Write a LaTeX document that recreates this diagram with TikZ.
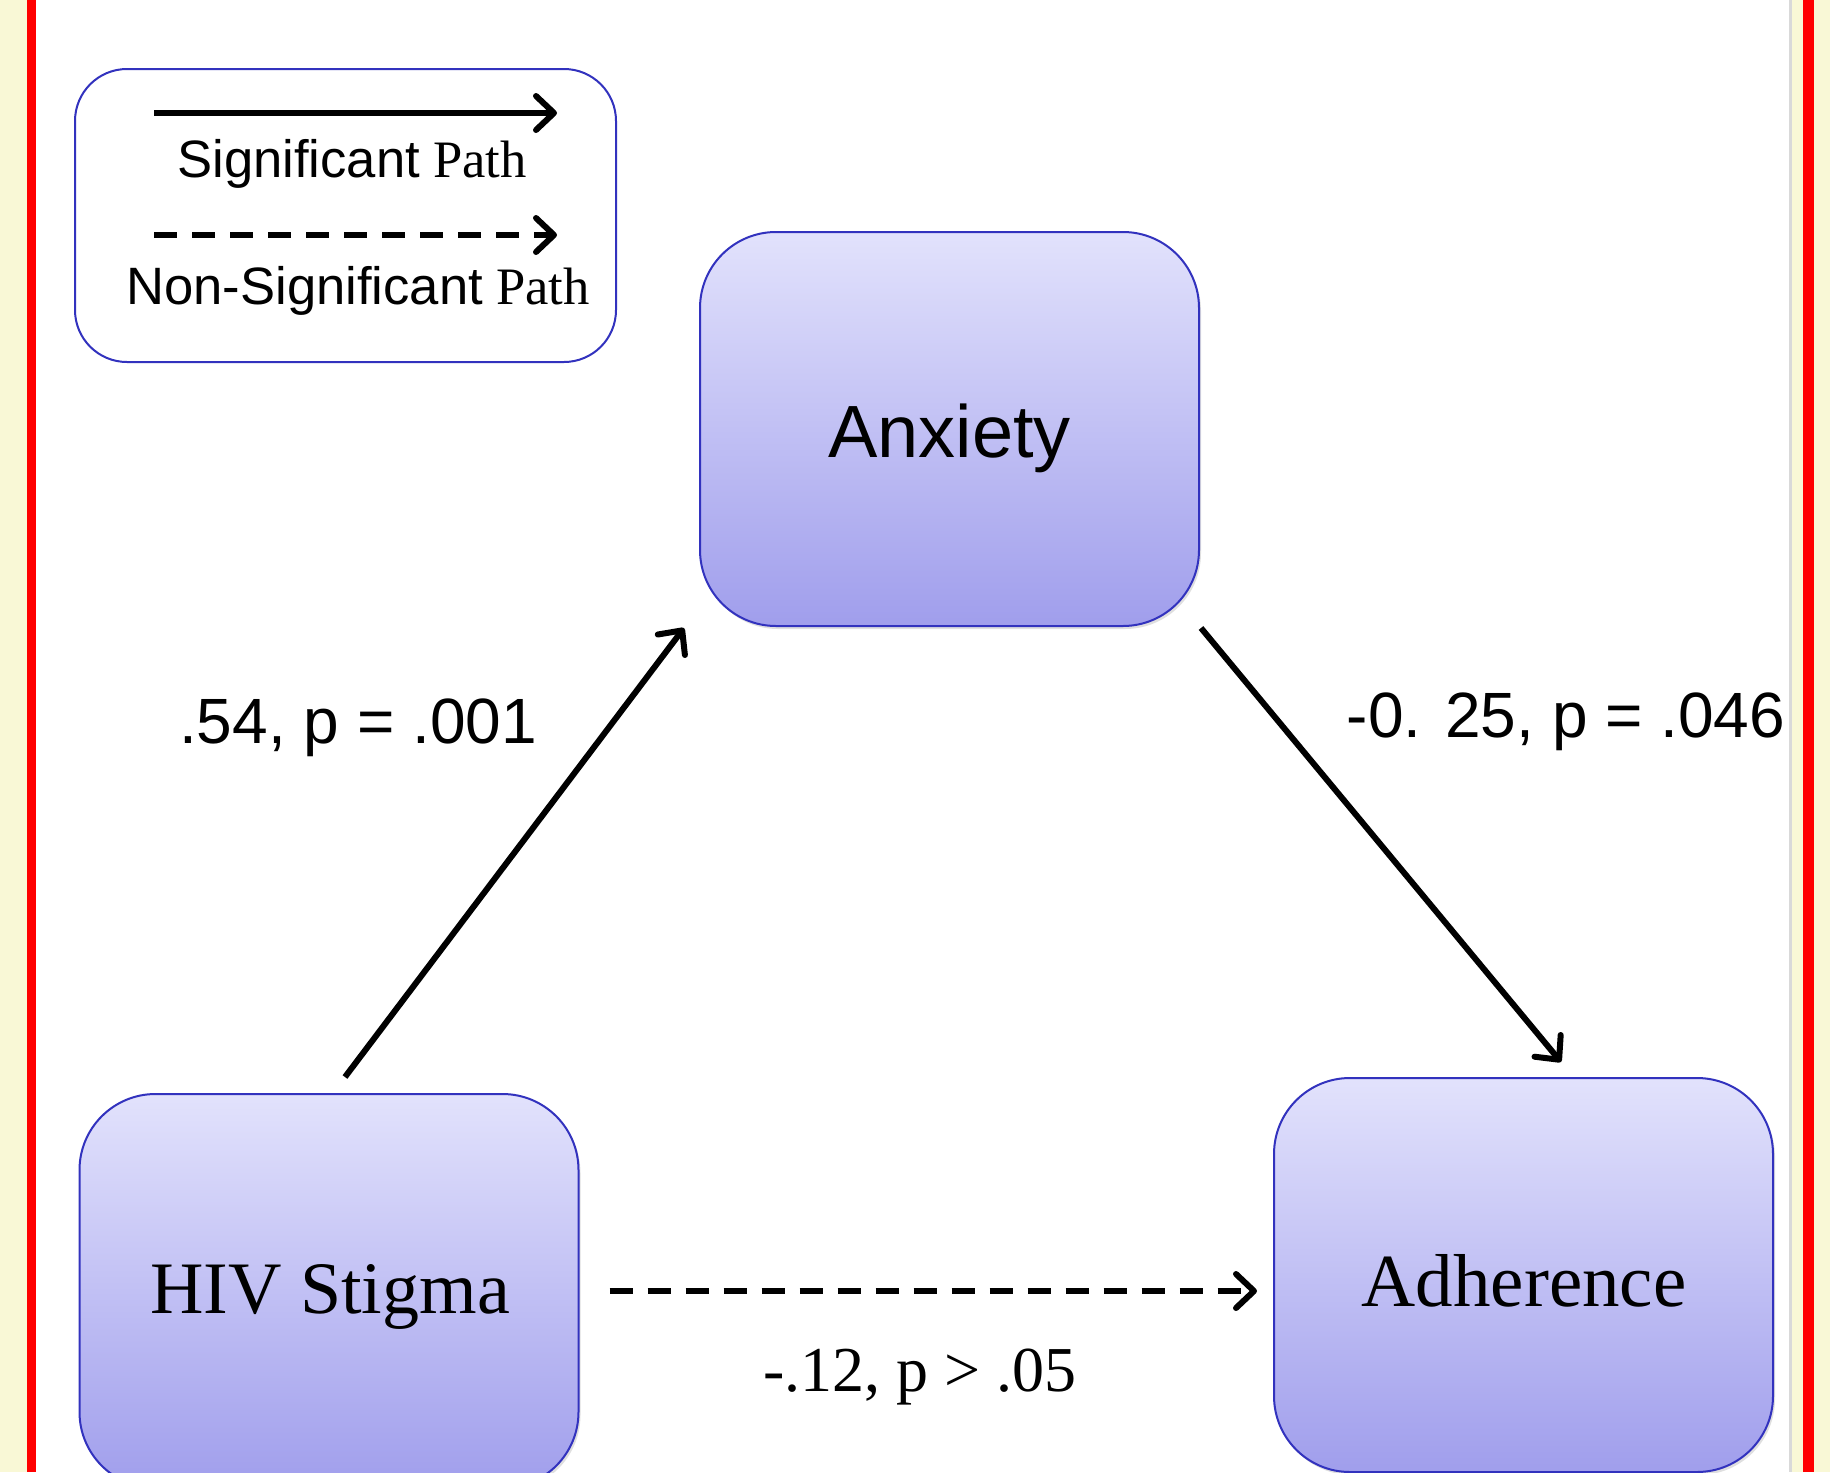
\documentclass[tikz,border=0pt]{standalone}
\usepackage{fontspec}
\setmainfont{Liberation Serif}
\newfontfamily\arialf{Liberation Sans}
\usetikzlibrary{arrows.meta,shadows}
\definecolor{bgyellow}{RGB}{249,248,214}
\definecolor{redline}{RGB}{255,0,0}
\definecolor{boxtop}{RGB}{226,226,252}
\definecolor{boxmid}{RGB}{188,188,250}
\definecolor{boxbot}{RGB}{160,158,236}
\definecolor{boxdraw}{RGB}{50,50,190}
\begin{document}
\begin{tikzpicture}[x=0.5pt,y=-0.5pt,
  varbox/.style={draw=boxdraw, line width=1pt, rounded corners=38pt,
    minimum width=249.5pt, minimum height=197pt, inner sep=0pt,
    top color=boxtop, middle color=boxmid, bottom color=boxbot,
    drop shadow={shadow xshift=1pt,shadow yshift=-1.5pt,opacity=0.25}},
  legendbox/.style={draw=boxdraw, line width=1pt, rounded corners=26pt,
    fill=white, minimum width=270.5pt, minimum height=146.5pt, inner sep=0pt},
  sig/.style={line width=3pt, -{Straight Barb[length=9pt,width=17pt,round]}},
  nonsig/.style={sig, dash pattern=on 11.5pt off 7.5pt},
  sanslabel/.style={font=\arialf\fontsize{32}{38}\selectfont, inner sep=0pt},
  seriflabel/.style={font=\fontsize{32}{38}\selectfont, inner sep=0pt},
  legendtext/.style={font=\fontsize{26.3}{31}\selectfont, inner sep=0pt}
]
\useasboundingbox (0,0) rectangle (1830,1472);
\clip (0,0) rectangle (1830,1472);
% background frame
\fill[bgyellow] (0,0) rectangle (1830,1472);
\fill[white] (36,0) rectangle (1789,1472);
\fill[black!15] (1789,0) rectangle (1792,1472);
\fill[redline] (27,0) rectangle (36,1472);
\fill[redline] (1803,0) rectangle (1814,1472);

% legend
\node[legendbox] (legend) at (345.5,215.5) {};
\coordinate (ls1) at (154,113);
\coordinate (ls2) at (557,113);
\coordinate (ln1) at (154,235);
\coordinate (ln2) at (557,235);
\draw[sig] (ls1) -- (ls2);
\draw[nonsig] (ln1) -- (ln2);
\node[legendtext] (lsig) at (352,164) {{\arialf Significant} Path};
\node[legendtext] (lnon) at (358,291) {{\arialf Non-Significant} Path};

% variable boxes
\node[varbox] (anx) at (949.5,429) {};
\node[varbox] (hiv) at (329,1291) {};
\node[varbox] (adh) at (1523.5,1275) {};
\node[font=\arialf\fontsize{37}{44}\selectfont, inner sep=0pt] (anxt) at (949.5,438) {Anxiety};
\node[font=\fontsize{37}{44}\selectfont, inner sep=0pt] (hivt) at (330,1297) {HIV Stigma};
\node[font=\fontsize{37.5}{45}\selectfont, inner sep=0pt] (adht) at (1524,1281) {Adherence};

% paths
\draw[sig] ([xshift=8pt,yshift=8pt]hiv.north) -- ([xshift=-7.5pt,yshift=-0.5pt]anx.south west);
\draw[sig] ([xshift=0.5pt,yshift=-0.5pt]anx.south east) -- ([xshift=18.75pt,yshift=7.5pt]adh.north);
\draw[nonsig] ([xshift=15pt]hiv.east) -- ([xshift=-8pt]hiv.east -| adh.west);

% labels
\node[sanslabel] (l1) at (358,728) {.54, p = .001};
\node[sanslabel] (l2) at (1566,722) {-0. 25, p = .046};
\node[seriflabel] (l3) at (920,1377) {-.12, p > .05};
\end{tikzpicture}
\end{document}
